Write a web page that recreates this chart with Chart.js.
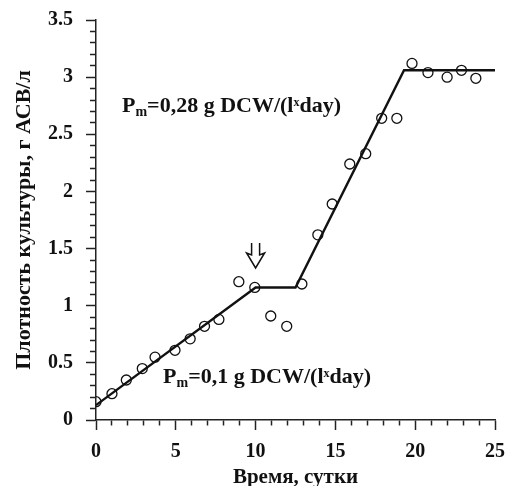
<!DOCTYPE html>
<html>
<head>
<meta charset="utf-8">
<script src="https://cdn.jsdelivr.net/npm/chart.js@4"></script>
<style>
  body { margin: 0; background: #fff; }
  #wrap { width: 506px; height: 486px; }
</style>
</head>
<body>
<div id="wrap"><canvas id="chart" width="506" height="486"></canvas></div>
<script>
'use strict';

// measured points (days, g/l)
var days = [0, 1, 1.9, 2.9, 3.7, 4.95, 5.9, 6.8, 7.7, 8.95, 9.95, 10.95, 11.95, 12.9, 13.9, 14.8, 15.9, 16.9, 17.9, 18.85, 19.8, 20.8, 22, 22.9, 23.8];
var density = [0.16, 0.23, 0.35, 0.45, 0.55, 0.61, 0.71, 0.82, 0.88, 1.21, 1.16, 0.91, 0.82, 1.19, 1.62, 1.89, 2.24, 2.33, 2.64, 2.64, 3.12, 3.04, 3.0, 3.06, 2.99];

// piecewise fit line
var fitDays = [0, 10, 12.5, 19.3, 25];
var fitDensity = [0.13, 1.16, 1.16, 3.06, 3.06];

// tick positions: every 1 day / 0.1 g/l, labelled at the major ones
var xTicks = [0, 1, 2, 3, 4, 5, 6, 7, 8, 9, 10, 11, 12, 13, 14, 15, 16, 17, 18, 19, 20, 21, 22, 23, 24, 25];
var yTicks = [0, 0.1, 0.2, 0.3, 0.4, 0.5, 0.6, 0.7, 0.8, 0.9, 1, 1.1, 1.2, 1.3, 1.4, 1.5, 1.6, 1.7, 1.8, 1.9, 2,
	2.1, 2.2, 2.3, 2.4, 2.5, 2.6, 2.7, 2.8, 2.9, 3, 3.1, 3.2, 3.3, 3.4, 3.5];

var FONT = 'Liberation Serif';

function toXY(xs, ys) {
	return xs.map(function(x, i) {
		return {x: x, y: ys[i]};
	});
}

function isMajor(v, step) {
	return Math.abs(v / step - Math.round(v / step)) < 1e-6;
}

// text notes and arrow
function richText(ctx, x, y, parts) {
	parts.forEach(function(part) {
		ctx.font = 'bold ' + part.size + 'px "' + FONT + '"';
		ctx.fillText(part.t, x, y + (part.dy || 0));
		x += ctx.measureText(part.t).width;
	});
}

var notes = {
	id: 'notes',
	afterDraw: function(chart) {
		var ctx = chart.ctx;
		var xs = chart.scales.x;
		var ys = chart.scales.y;
		ctx.save();
		ctx.fillStyle = '#111';
		ctx.textBaseline = 'alphabetic';
		richText(ctx, xs.getPixelForValue(1.63), ys.getPixelForValue(2.695), [
			{t: 'P', size: 22},
			{t: 'm', size: 14, dy: 4},
			{t: '=0,28 g DCW/(l', size: 22},
			{t: 'x', size: 12, dy: -6},
			{t: 'day)', size: 22}
		]);
		richText(ctx, xs.getPixelForValue(4.2), ys.getPixelForValue(0.324), [
			{t: 'P', size: 22},
			{t: 'm', size: 14, dy: 4},
			{t: '=0,1 g DCW/(l', size: 22},
			{t: 'x', size: 12, dy: -6},
			{t: 'day)', size: 22}
		]);

		// double arrow pointing at day 10
		var cx = xs.getPixelForValue(10);
		var tip = ys.getPixelForValue(1.33);
		ctx.strokeStyle = '#111';
		ctx.lineWidth = 1.5;
		ctx.beginPath();
		ctx.moveTo(cx - 4, tip - 25);
		ctx.lineTo(cx - 4, tip - 13);
		ctx.lineTo(cx - 9, tip - 15);
		ctx.lineTo(cx, tip);
		ctx.lineTo(cx + 9, tip - 15);
		ctx.lineTo(cx + 4, tip - 13);
		ctx.lineTo(cx + 4, tip - 25);
		ctx.stroke();
		ctx.restore();
	}
};

new Chart(document.getElementById('chart'), {
	type: 'scatter',
	data: {
		datasets: [{
			data: toXY(fitDays, fitDensity),
			showLine: true,
			borderColor: '#111',
			borderWidth: 2.4,
			pointRadius: 0,
			order: 2
		}, {
			data: toXY(days, density),
			showLine: false,
			pointRadius: 5,
			pointBorderWidth: 1.3,
			borderColor: '#111',
			backgroundColor: 'rgba(0,0,0,0)',
			order: 1
		}]
	},
	options: {
		responsive: false,
		animation: false,
		layout: {padding: {top: 20, right: 11, left: 0, bottom: 0}},
		plugins: {legend: {display: false}, tooltip: {enabled: false}},
		scales: {
			x: {
				type: 'linear',
				min: 0,
				max: 25,
				afterFit: function(s) {
					s.height = 66;
					s.paddingLeft = 0;
					s.paddingRight = 0;
				},
				afterBuildTicks: function(s) {
					s.ticks = xTicks.map(function(v) { return {value: v}; });
				},
				grid: {
					display: true,
					drawOnChartArea: false,
					drawTicks: true,
					tickLength: 10,
					tickColor: '#222',
					tickWidth: 1.5,
					// bottom ticks start at the axis line
					tickBorderDash: function(c) {
						return c.tick && isMajor(c.tick.value, 5) ? [] : [5, 50];
					}
				},
				border: {display: true, color: '#222', width: 1.5},
				ticks: {
					color: '#111',
					padding: 10,
					maxRotation: 0,
					autoSkip: false,
					callback: function(v) { return isMajor(v, 5) ? String(v) : ''; },
					font: {family: FONT, size: 20, weight: 'bold'}
				},
				title: {
					display: true,
					text: 'Время, сутки',
					color: '#111',
					padding: {top: 0, bottom: -2},
					font: {family: FONT, size: 21, weight: 'bold', lineHeight: 1}
				}
			},
			y: {
				type: 'linear',
				min: 0,
				max: 3.5,
				afterFit: function(s) {
					s.width = 96;
					s.paddingTop = 0;
					s.paddingBottom = 0;
				},
				afterBuildTicks: function(s) {
					s.ticks = yTicks.map(function(v) { return {value: v}; });
				},
				grid: {
					display: true,
					drawOnChartArea: false,
					drawTicks: true,
					tickLength: 10,
					tickColor: '#222',
					tickWidth: 1.5,
					// left ticks are stroked from the outer end, so skip the first 4px
					tickBorderDash: function(c) {
						return c.tick && isMajor(c.tick.value, 0.5) ? [] : [0, 4, 10, 50];
					}
				},
				border: {display: true, color: '#222', width: 1.5},
				ticks: {
					color: '#111',
					padding: 13,
					autoSkip: false,
					callback: function(v) { return isMajor(v, 0.5) ? String(v) : ''; },
					font: {family: FONT, size: 20, weight: 'bold'}
				},
				title: {
					display: true,
					text: 'Плотность культуры, г АСВ/л',
					color: '#111',
					padding: {top: 13, bottom: 0},
					font: {family: FONT, size: 22, weight: 'bold', lineHeight: 1}
				}
			}
		}
	},
	plugins: [notes]
});
</script>
</body>
</html>
